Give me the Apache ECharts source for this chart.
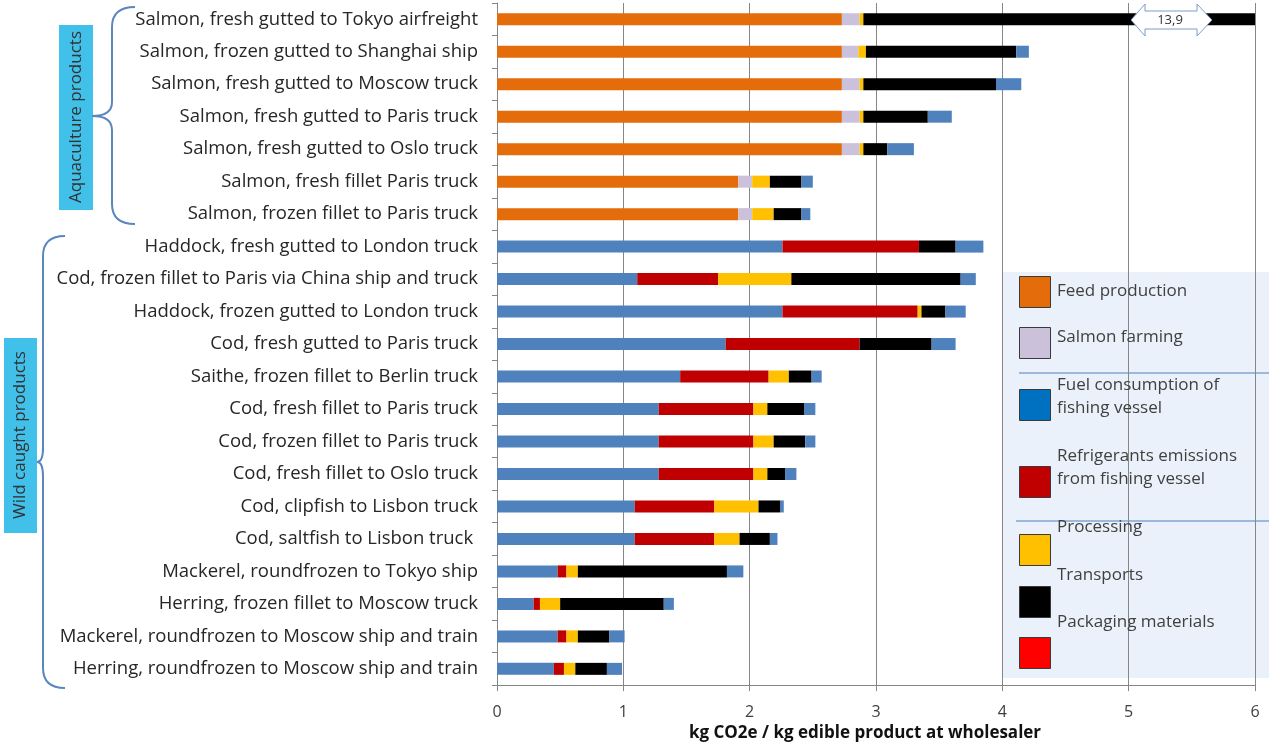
<!DOCTYPE html>
<html>
<head>
<meta charset="utf-8">
<script src="https://cdn.jsdelivr.net/npm/echarts@6/dist/echarts.min.js"></script>
<style>
  html, body { margin: 0; padding: 0; background: #ffffff; }
  #chart { width: 1269px; height: 747px; }
</style>
</head>
<body>
<div id="chart"></div>
<script>
const categories = [
  'Salmon, fresh gutted to Tokyo airfreight',
  'Salmon, frozen gutted to Shanghai ship',
  'Salmon, fresh gutted to Moscow truck',
  'Salmon, fresh gutted to Paris truck',
  'Salmon, fresh gutted to Oslo truck',
  'Salmon, fresh fillet Paris truck',
  'Salmon, frozen fillet to Paris truck',
  'Haddock, fresh gutted to London truck',
  'Cod, frozen fillet to Paris via China ship and truck',
  'Haddock, frozen gutted to London truck',
  'Cod, fresh gutted to Paris truck',
  'Saithe, frozen fillet to Berlin truck',
  'Cod, fresh fillet to Paris truck',
  'Cod, frozen fillet to Paris truck',
  'Cod, fresh fillet to Oslo truck',
  'Cod, clipfish to Lisbon truck',
  'Cod, saltfish to Lisbon truck ',
  'Mackerel, roundfrozen to Tokyo ship',
  'Herring, frozen fillet to Moscow truck',
  'Mackerel, roundfrozen to Moscow ship and train',
  'Herring, roundfrozen to Moscow ship and train'
];

const feedProduction  = [2.73, 2.73, 2.73, 2.73, 2.73, 1.91, 1.91, 0, 0, 0, 0, 0, 0, 0, 0, 0, 0, 0, 0, 0, 0];
const salmonFarming   = [0.14, 0.13, 0.14, 0.14, 0.14, 0.11, 0.11, 0, 0, 0, 0, 0, 0, 0, 0, 0, 0, 0, 0, 0, 0];
const fuelConsumption = [0, 0, 0, 0, 0, 0, 0, 2.26, 1.11, 2.26, 1.81, 1.45, 1.28, 1.28, 1.28, 1.09, 1.09, 0.48, 0.29, 0.48, 0.45];
const refrigerants    = [0, 0, 0, 0, 0, 0, 0, 1.08, 0.64, 1.07, 1.06, 0.70, 0.75, 0.75, 0.75, 0.63, 0.63, 0.07, 0.05, 0.07, 0.08];
const processing      = [0.03, 0.06, 0.03, 0.03, 0.03, 0.14, 0.17, 0, 0.58, 0.03, 0, 0.16, 0.11, 0.16, 0.11, 0.35, 0.20, 0.09, 0.16, 0.09, 0.09];
const transports      = [10.8, 1.19, 1.05, 0.51, 0.19, 0.25, 0.22, 0.29, 1.34, 0.19, 0.57, 0.18, 0.29, 0.25, 0.14, 0.17, 0.24, 1.18, 0.82, 0.25, 0.25];
const packaging       = [0.20, 0.10, 0.20, 0.19, 0.21, 0.09, 0.07, 0.22, 0.12, 0.16, 0.19, 0.08, 0.09, 0.08, 0.09, 0.03, 0.06, 0.13, 0.08, 0.12, 0.12];

const xTickValues = [0, 1, 2, 3, 4, 5, 6];
const axisTitle = 'kg CO2e / kg edible product at wholesaler';
const truncatedLabel = '13,9';
const groupLabels = ['Aquaculture products', 'Wild caught products'];

const seriesNames = [
  'Feed production',
  'Salmon farming',
  'Fuel consumption of\nfishing vessel',
  'Refrigerants emissions\nfrom fishing vessel',
  'Processing',
  'Transports',
  'Packaging materials'
];
const seriesData = [feedProduction, salmonFarming, fuelConsumption, refrigerants, processing, transports, packaging];
const barColors = ['#E46C0A', '#CCC1DA', '#4F81BD', '#C00000', '#FFC000', '#000000', '#4F81BD'];
const legendColors = ['#E46C0A', '#CCC1DA', '#0070C0', '#C00000', '#FFC000', '#000000', '#FF0000'];

// legend layout: swatch tops and text-block tops
const swatchTops = [276, 327, 389, 466, 534, 586, 637];
const textTops = [279.5, 325.5, 373.5, 445, 515.5, 563.5, 610.5];

const FONT = 'Open Sans';
const chart = echarts.init(document.getElementById('chart'), null, { renderer: 'canvas' });

const swatchLegends = seriesNames.map((name, i) => ({
  show: true,
  left: 1019,
  top: swatchTops[i],
  orient: 'vertical',
  padding: 0,
  itemWidth: 31,
  itemHeight: 31,
  itemGap: 0,
  icon: 'rect',
  selectedMode: false,
  z: 5,
  formatter: () => '',
  data: [{ name: name, itemStyle: { color: legendColors[i], borderColor: '#3a3a3a', borderWidth: 1 } }],
  textStyle: { fontSize: 1 }
}));

const textLegends = seriesNames.map((name, i) => ({
  show: true,
  left: 1021,
  top: textTops[i],
  orient: 'vertical',
  padding: 0,
  itemWidth: 31,
  itemHeight: 1,
  itemGap: 0,
  icon: 'rect',
  selectedMode: false,
  z: 5,
  data: [{ name: name, itemStyle: { color: 'rgba(0,0,0,0)', borderWidth: 0 } }],
  textStyle: {
    fontFamily: FONT,
    fontSize: 17,
    color: '#404040',
    lineHeight: 23
  }
}));

const braceStyle = { stroke: '#5B86BE', lineWidth: 2, fill: 'none' };
function curve(x1, y1, cx, cy, x2, y2) {
  return { type: 'bezierCurve', silent: true, shape: { x1: x1, y1: y1, cpx1: cx, cpy1: cy, x2: x2, y2: y2 }, style: braceStyle };
}
function seg(x1, y1, x2, y2) {
  return { type: 'line', silent: true, shape: { x1: x1, y1: y1, x2: x2, y2: y2 }, style: braceStyle };
}
function brace(tipX, spineX, midX, top, mid, bottom) {
  const r = 20;
  return [
    curve(tipX, top, spineX, top, spineX, top + r),
    seg(spineX, top + r, spineX, mid - 14),
    curve(spineX, mid - 14, spineX, mid, midX, mid),
    curve(midX, mid, spineX, mid, spineX, mid + 14),
    seg(spineX, mid + 14, spineX, bottom - r),
    curve(spineX, bottom - r, spineX, bottom, tipX, bottom)
  ];
}

const option = {
  animation: false,
  backgroundColor: '#ffffff',
  legend: swatchLegends.concat(textLegends),
  grid: { left: 497, right: 14, top: 3, bottom: 56, containLabel: false },
  xAxis: {
    type: 'value',
    min: 0,
    max: 6,
    interval: 1,
    z: 2,
    axisLine: { show: true, lineStyle: { color: '#868686', width: 1 } },
    axisTick: { show: true, length: 6, lineStyle: { color: '#868686' } },
    splitLine: { show: true, lineStyle: { color: '#868686', width: 1 } },
    axisLabel: {
      margin: 19,
      fontFamily: FONT,
      fontSize: 16,
      color: '#404040',
      formatter: v => (xTickValues.indexOf(v) >= 0 ? String(v) : '')
    },
    name: axisTitle,
    nameLocation: 'middle',
    nameGap: 35,
    nameTextStyle: {
      fontFamily: FONT,
      fontSize: 17,
      fontWeight: 'bold',
      color: '#111111',
      padding: [0, 22, 0, 0]
    }
  },
  yAxis: {
    type: 'category',
    data: categories,
    inverse: true,
    z: 2,
    axisLine: { show: true, lineStyle: { color: '#868686', width: 1 } },
    axisTick: { show: true, length: 5, lineStyle: { color: '#868686' } },
    splitLine: { show: false },
    axisLabel: {
      margin: 19,
      fontFamily: FONT,
      fontSize: 18.5,
      color: '#262626'
    }
  },
  series: seriesNames.map((name, i) => ({
    name: name,
    type: 'bar',
    stack: 'total',
    barWidth: 12,
    z: 3,
    clip: true,
    itemStyle: { color: barColors[i] },
    emphasis: { disabled: true },
    data: seriesData[i]
  })),
  graphic: [
    // legend background box
    { type: 'rect', z: -10, silent: true, shape: { x: 1003, y: 272, width: 266, height: 406 }, style: { fill: '#EAF1FA' } },
    { type: 'line', z: 1, silent: true, shape: { x1: 1019, y1: 373, x2: 1269, y2: 373 }, style: { stroke: '#4F81BD', lineWidth: 1 } },
    { type: 'line', z: 1, silent: true, shape: { x1: 1016, y1: 521, x2: 1269, y2: 521 }, style: { stroke: '#4F81BD', lineWidth: 1 } },
    // group boxes
    { type: 'rect', silent: true, shape: { x: 59, y: 25, width: 34, height: 185 }, style: { fill: '#41C0EA' } },
    { type: 'text', silent: true, x: 76, y: 117, rotation: Math.PI / 2,
      style: { text: groupLabels[0], fill: '#333333', font: '17px "Open Sans"', align: 'center', verticalAlign: 'middle' } },
    { type: 'rect', silent: true, shape: { x: 4, y: 338, width: 33, height: 195 }, style: { fill: '#41C0EA' } },
    { type: 'text', silent: true, x: 20.5, y: 435, rotation: Math.PI / 2,
      style: { text: groupLabels[1], fill: '#333333', font: '17px "Open Sans"', align: 'center', verticalAlign: 'middle' } }
  ]
    .concat(brace(135, 112, 92, 7, 116, 224))
    .concat(brace(65, 43, 37, 236, 462, 688))
    .concat([
      // truncated value arrow
      { type: 'polygon', z: 10, silent: true,
        shape: { points: [[1131, 20], [1145, 4], [1145, 11], [1197, 11], [1197, 4], [1212, 20], [1197, 36], [1197, 29], [1145, 29], [1145, 36]] },
        style: { fill: '#ffffff', stroke: '#7F9DC6', lineWidth: 1 } },
      { type: 'text', z: 11, silent: true, x: 1170, y: 20,
        style: { text: truncatedLabel, fill: '#333333', font: '13px "Open Sans"', align: 'center', verticalAlign: 'middle' } }
    ])
};

chart.setOption(option);
</script>
</body>
</html>
